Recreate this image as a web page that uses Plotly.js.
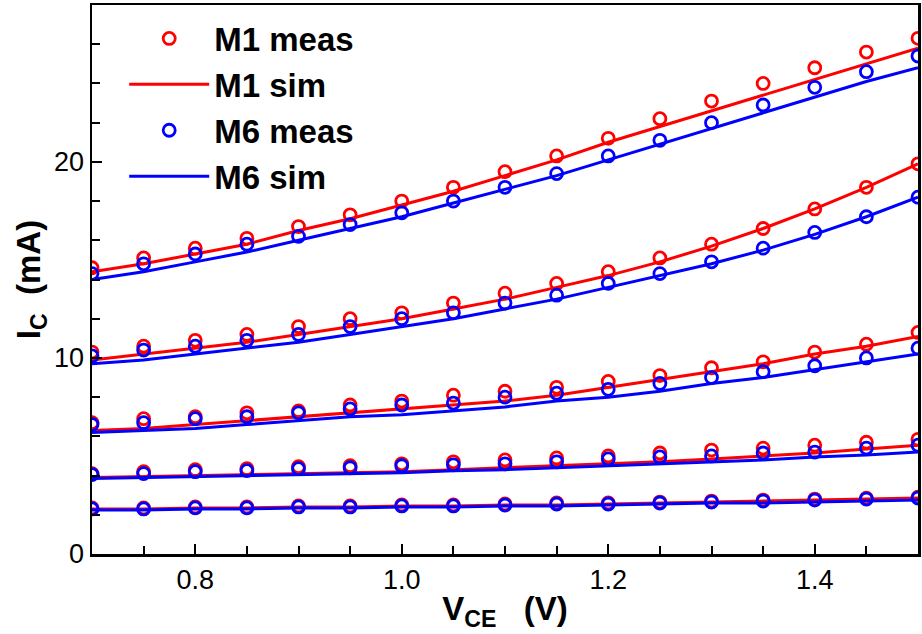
<!DOCTYPE html>
<html>
<head>
<meta charset="utf-8">
<script src="https://cdn.plot.ly/plotly-3.0.1.min.js"></script>
<style>html,body{margin:0;padding:0;background:#fff;}#chart{width:922px;height:634px;}</style>
</head>
<body>
<div id="chart"></div>
<script>
// V_CE values (V)
const vce = [0.70,0.75,0.80,0.85,0.90,0.95,1.00,1.05,1.10,1.15,1.20,1.25,1.30,1.35,1.40,1.45,1.50];

// M1 measured (mA), five bias curves, top to bottom
const m1Meas1 = [14.6,15.1,15.6,16.1,16.7,17.3,18.0,18.7,19.5,20.3,21.2,22.2,23.1,24.0,24.8,25.6,26.3];
const m1Meas2 = [10.3,10.6,10.9,11.2,11.6,12.0,12.3,12.8,13.3,13.8,14.4,15.1,15.8,16.6,17.6,18.7,19.9];
const m1Meas3 = [6.7,6.9,7.0,7.2,7.3,7.6,7.8,8.1,8.3,8.5,8.8,9.1,9.5,9.8,10.3,10.7,11.3];
const m1Meas4 = [4.1,4.2,4.3,4.35,4.45,4.5,4.6,4.7,4.8,4.9,5.0,5.15,5.3,5.4,5.55,5.7,5.85];
const m1Meas5 = [2.35,2.35,2.4,2.4,2.45,2.45,2.5,2.5,2.55,2.6,2.6,2.65,2.7,2.75,2.8,2.85,2.9];

// M1 simulated
const m1Sim1 = [14.4,14.8,15.3,15.8,16.5,17.1,17.8,18.5,19.3,20.1,21.0,21.8,22.6,23.4,24.2,25.0,25.8];
const m1Sim2 = [9.9,10.2,10.5,10.8,11.2,11.6,12.0,12.5,13.0,13.6,14.2,14.9,15.7,16.6,17.6,18.7,19.9];
const m1Sim3 = [6.3,6.4,6.6,6.8,7.0,7.2,7.4,7.6,7.8,8.1,8.5,8.9,9.3,9.7,10.2,10.6,11.1];
const m1Sim4 = [3.9,3.95,4.0,4.05,4.1,4.15,4.2,4.3,4.4,4.5,4.6,4.7,4.85,5.0,5.15,5.35,5.55];
const m1Sim5 = [2.3,2.3,2.35,2.35,2.4,2.4,2.45,2.45,2.5,2.5,2.55,2.6,2.65,2.7,2.75,2.8,2.85];

// M6 measured
const m6Meas1 = [14.3,14.8,15.3,15.8,16.2,16.8,17.4,18.0,18.7,19.4,20.3,21.1,22.0,22.9,23.8,24.6,25.4];
const m6Meas2 = [10.1,10.4,10.6,10.9,11.2,11.6,12.0,12.3,12.8,13.2,13.8,14.3,14.9,15.6,16.4,17.2,18.2];
const m6Meas3 = [6.6,6.7,6.9,7.0,7.2,7.4,7.6,7.7,8.0,8.2,8.4,8.7,9.0,9.3,9.6,10.0,10.5];
const m6Meas4 = [4.05,4.1,4.2,4.25,4.35,4.4,4.5,4.55,4.6,4.7,4.85,4.95,5.0,5.15,5.2,5.4,5.55];
const m6Meas5 = [2.3,2.3,2.35,2.35,2.4,2.4,2.45,2.45,2.5,2.55,2.55,2.6,2.65,2.7,2.75,2.8,2.85];

// M6 simulated
const m6Sim1 = [14.0,14.4,14.9,15.4,16.0,16.6,17.2,17.9,18.6,19.3,20.1,20.9,21.7,22.5,23.3,24.1,24.8];
const m6Sim2 = [9.7,9.9,10.2,10.5,10.8,11.2,11.6,12.0,12.5,13.0,13.6,14.2,14.8,15.5,16.3,17.2,18.2];
const m6Sim3 = [6.2,6.3,6.4,6.6,6.8,7.0,7.1,7.3,7.5,7.8,8.0,8.3,8.7,9.0,9.4,9.8,10.2];
const m6Sim4 = [3.85,3.9,3.95,4.0,4.05,4.1,4.15,4.25,4.3,4.4,4.5,4.6,4.7,4.8,4.95,5.05,5.2];
const m6Sim5 = [2.25,2.25,2.3,2.3,2.35,2.35,2.4,2.4,2.45,2.45,2.5,2.55,2.6,2.6,2.65,2.7,2.75];

const seriesNames = ["M1 meas","M1 sim","M6 meas","M6 sim"];
const RED = "#ff0000", BLUE = "#0000ff";

const groups = [
  {name: seriesNames[1], data: [m1Sim1,m1Sim2,m1Sim3,m1Sim4,m1Sim5], color: RED, kind: "line", rank: 2},
  {name: seriesNames[0], data: [m1Meas1,m1Meas2,m1Meas3,m1Meas4,m1Meas5], color: RED, kind: "marker", rank: 1},
  {name: seriesNames[3], data: [m6Sim1,m6Sim2,m6Sim3,m6Sim4,m6Sim5], color: BLUE, kind: "line", rank: 4},
  {name: seriesNames[2], data: [m6Meas1,m6Meas2,m6Meas3,m6Meas4,m6Meas5], color: BLUE, kind: "marker", rank: 3}
];

const traces = [];
groups.forEach(g => {
  g.data.forEach((ys, i) => {
    const t = {
      x: vce, y: ys, type: "scatter", name: g.name,
      legendgroup: g.name, showlegend: i === 0, legendrank: g.rank
    };
    if (g.kind === "line") {
      t.mode = "lines";
      t.line = {color: g.color, width: 3};
    } else {
      t.mode = "markers";
      t.marker = {symbol: "circle-open", size: 12, color: g.color, line: {color: g.color, width: 2.8}};
    }
    traces.push(t);
  });
});

const tickFont = {family: "Liberation Sans, Arial, sans-serif", size: 27, color: "#000"};
const titleFont = {family: "Liberation Sans, Arial, sans-serif", size: 33, color: "#000"};

const layout = {
  width: 922, height: 634,
  margin: {l: 92, r: 4, t: 5, b: 80},
  paper_bgcolor: "#fff", plot_bgcolor: "#fff",
  showlegend: true,
  legend: {
    x: 0.039, y: 0.99, xanchor: "left", yanchor: "top",
    itemwidth: 80,
    font: {family: "Liberation Sans, Arial, sans-serif", size: 33, color: "#000", weight: "bold"},
    bgcolor: "rgba(0,0,0,0)", borderwidth: 0, tracegroupgap: 0
  },
  xaxis: {
    range: [0.7, 1.5], dtick: 0.2, tick0: 0, tickformat: ".1f",
    ticks: "inside", ticklen: 10, tickwidth: 2, tickcolor: "#000",
    minor: {dtick: 0.05, ticks: "inside", ticklen: 8, tickwidth: 2, tickcolor: "#000", showgrid: false},
    showline: true, linewidth: 2.5, linecolor: "#000", mirror: true,
    showgrid: false, zeroline: false, tickfont: tickFont,
    title: {text: "<b>V<sub>CE</sub>\u00a0\u00a0\u00a0(V)</b>", font: titleFont, standoff: 3}
  },
  yaxis: {
    range: [0, 28], dtick: 10, tick0: 0,
    ticks: "inside", ticklen: 10, tickwidth: 2, tickcolor: "#000",
    minor: {dtick: 2, ticks: "inside", ticklen: 8, tickwidth: 2, tickcolor: "#000", showgrid: false},
    showline: true, linewidth: 2.5, linecolor: "#000", mirror: true,
    showgrid: false, zeroline: false, tickfont: tickFont,
    title: {text: "<b>I<sub>C</sub>\u00a0\u00a0(mA)</b>", font: titleFont, standoff: 4}
  }
};

Plotly.newPlot("chart", traces, layout, {staticPlot: true, displayModeBar: false});
</script>
</body>
</html>
